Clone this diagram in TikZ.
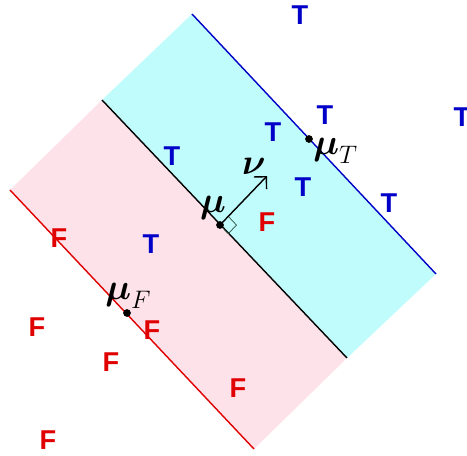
\documentclass[tikz,border=0pt]{standalone}
\usepackage{amsmath,amssymb}
\usepackage{fontspec}
\newfontfamily\labelfont{Liberation Sans}
\usepackage{tikz}
\usetikzlibrary{arrows.meta,calc}
\usepackage{xcolor}
\definecolor{truecolor}{HTML}{0000C8}
\definecolor{falsecolor}{HTML}{E00000}
\definecolor{truefill}{HTML}{C0FCFC}
\definecolor{falsefill}{HTML}{FDE2EA}
\definecolor{anglecolor}{HTML}{2F4F3F}

\begin{document}
\begin{tikzpicture}[x=0.02cm, y=-0.02cm, >=Stealth]
    \useasboundingbox (0,0) rectangle (467,456);
    \tikzset{
        tlabel/.style={text=truecolor, font=\fontsize{15.5}{18}\labelfont\bfseries, inner sep=0pt},
        flabel/.style={text=falsecolor, font=\fontsize{15.5}{18}\labelfont\bfseries, inner sep=0pt},
        meanlabel/.style={font=\fontsize{21}{25}\selectfont, inner sep=0pt}
    }
    % Boundary lines
    \coordinate (BT) at (192,14);  \coordinate (ET) at (436,274);
    \coordinate (BM) at (102,100); \coordinate (EM) at (347,358);
    \coordinate (BF) at (10,190);  \coordinate (EF) at (254,449);

    % Half-planes
    \fill[truefill] (BT) -- (ET) -- (EM) -- (BM) -- cycle;
    \fill[falsefill] (BM) -- (EM) -- (EF) -- (BF) -- cycle;

    \draw[thick, color=truecolor] (BT) -- (ET);
    \draw[thick, color=black] (BM) -- (EM);
    \draw[thick, color=falsecolor] (BF) -- (EF);

    % Means and normal vector
    \coordinate (mu) at (220,225);
    \coordinate (muT) at (309,139);
    \coordinate (muF) at (127,313);
    \coordinate (nu) at (267,176);

    \draw[thin, color=anglecolor] (mu) -- ++(8.2,8.7) -- ++(8.3,-8.6) -- ++(-8.2,-8.7);
    \draw[thick, -{Straight Barb[length=5pt]}] (mu) -- (nu);
    \node[meanlabel] (nulab) at (254,166) {$\boldsymbol{\nu}$};

    \fill (mu) circle (2.2pt);
    \fill (muT) circle (2.2pt);
    \fill (muF) circle (2.2pt);
    \node[meanlabel] (mulab) at (213,208) {$\boldsymbol{\mu}$};
    \node[meanlabel, anchor=west] (muTlab) at (313,151) {$\boldsymbol{\mu}_T$};
    \node[meanlabel, anchor=west] (muFlab) at (105,296) {$\boldsymbol{\mu}_F$};

    % Samples
    \foreach \px/\py [count=\i] in {300/15, 325/115, 273/132, 462/117, 172/156, 303/187, 389/203, 151/244}
        \node[tlabel] (t\i) at (\px,\py) {T};
    \foreach \px/\py [count=\i] in {267/222, 59/238, 37/327, 152/330, 111/362, 238/388, 48/440}
        \node[flabel] (f\i) at (\px,\py) {F};
\end{tikzpicture}
\end{document}
